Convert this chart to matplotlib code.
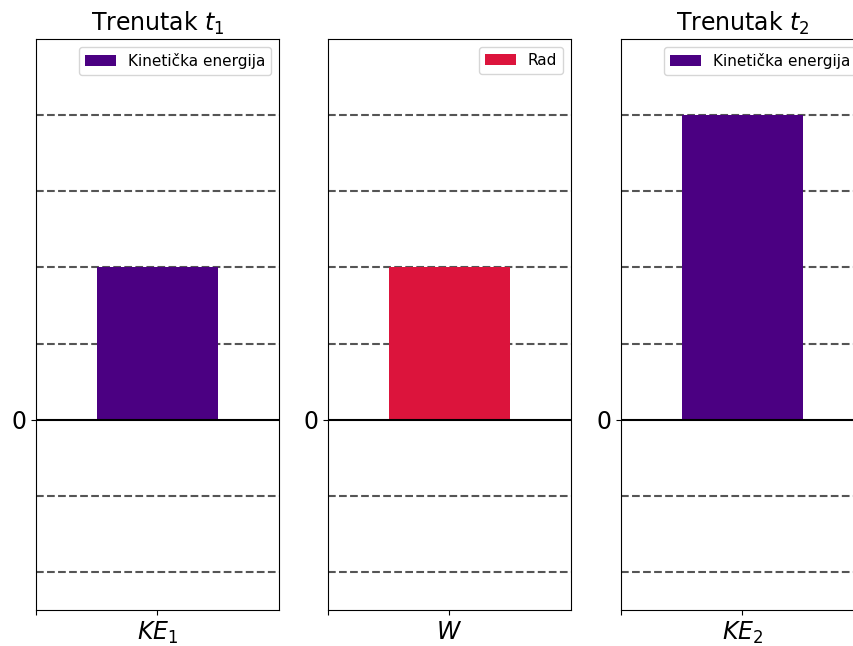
import matplotlib
matplotlib.use('Agg')
import matplotlib.pyplot as plt

# podaci
titles = ['Trenutak $t_1$', '', 'Trenutak $t_2$']
labels = ['$KE_1$', '$W$', '$KE_2$']
values = [2, 2, 4]
legend_names = ['Kinetička energija', 'Rad', 'Kinetička energija']
colors = ['indigo', 'crimson', 'indigo']
grid_levels = [-2, -1, 1, 2, 3, 4]

fig = plt.figure(figsize=(8.54, 6.46), dpi=100)
lefts = [36 / 854, 328 / 854, 621 / 854]
w = 243 / 854
b = 1 - 610 / 646
h = (610 - 39) / 646

for i in range(3):
    ax = fig.add_axes([lefts[i], b, w, h])
    ax.bar(0, values[i], width=1, color=colors[i], label=legend_names[i])
    for g in grid_levels:
        ax.axhline(g, color='#555555', ls='--', lw=1.5, zorder=0)
    ax.axhline(0, color='black', lw=1.5)
    ax.set_xlim(-1, 1)
    ax.set_ylim(-2.5, 5)
    ax.set_xticks([-1, 0])
    ax.set_xticklabels(['', labels[i]], fontsize=17)
    ax.set_yticks([0])
    ax.set_yticklabels(['0'], fontsize=17)
    if titles[i]:
        ax.set_title(titles[i], fontsize=17)
    ax.legend(loc='upper right', fontsize=11)

fig.savefig('out.png', dpi=100)
